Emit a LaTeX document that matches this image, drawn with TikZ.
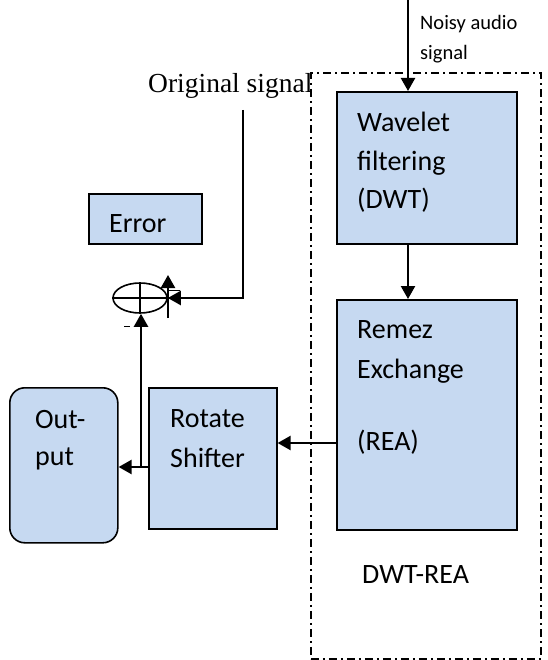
\documentclass[tikz,border=0pt]{standalone}
\usepackage{fontspec}
\setmainfont{Carlito}
\newfontfamily\timesfont{Liberation Serif}
\usetikzlibrary{arrows.meta,shapes.geometric}
\definecolor{boxblue}{HTML}{C6D9F1}
\tikzset{
  block/.style={draw, fill=boxblue, line width=1.6pt, inner sep=0pt, anchor=north west},
  txt/.style={anchor=base west, inner sep=0pt, align=left, font=\fontsize{28}{40}\selectfont},
  arr/.style={line width=2.3pt, -{Triangle[length=13pt,width=14pt]}},
}
\begin{document}
\begin{tikzpicture}[x=1pt,y=-1pt]
  \useasboundingbox (0,0) rectangle (547,660);

  % The DWT-REA frame, dash-dotted.
  \node[draw, line width=1.6pt, dash pattern=on 8pt off 4pt on 2pt off 4pt,
    minimum width=230pt, minimum height=586pt, anchor=north west, inner sep=0pt] (frame) at (310,72) {};

  % Blocks.
  \node[block, minimum width=180pt, minimum height=152pt] (wav) at (336,91) {};
  \node[block, minimum width=180pt, minimum height=230pt] (rem) at (336,299) {};
  \node[block, minimum width=128pt, minimum height=141pt] (rot) at (148,387) {};
  \node[block, rounded corners=15pt, minimum width=108pt, minimum height=155pt] (out) at (9,387) {};
  \node[block, minimum width=113pt, minimum height=50pt] (err) at (88,193) {};

  % Texts of the blocks (placed at the baseline of their last line).
  \node[txt] (wavtxt) at (357,208) {Wavelet\\[-1pt]filtering\\[-2pt](DWT)};
  \node[txt] (remtxt) at (357,450) {Remez\\Exchange\\[32pt](REA)};
  \node[txt] (rottxt) at (170,467) {Rotate\\Shifter};
  \node[txt] (outtxt) at (35,465) {Out-\\[-3pt]put};
  \node[txt] (errtxt) at (109,232) {Error};
  \node[txt] (frametxt) at (362,583) {DWT-REA};
  \node[txt, font=\fontsize{20.5}{30}\selectfont] (noisytxt) at (420,60) {Noisy audio\\signal};
  \node[txt, font=\timesfont\fontsize{27.5}{30}\selectfont] (origtxt) at (148,93) {Original signal};

  % Summing junction: an ellipse with a cross.
  \node[draw, ellipse, line width=1.6pt, minimum width=54pt, minimum height=30pt, inner sep=0pt] (sum) at (140,298) {};
  \draw[line width=1.6pt] (sum.north) -- (sum.south) (sum.west) -- (sum.east);
  \draw[line width=0.6pt] (124,326) -- (130,326);
  \draw[line width=0.6pt] (168,290) -- (180,290);

  % Connectors.
  \coordinate (noisy) at (408,0);
  \coordinate (orig) at (243,110);
  \coordinate (tap) at (141,467);
  \coordinate (plusbot) at (168,318);
  \coordinate (plustop) at (168,275);
  \draw[arr] (noisy) -- (noisy |- wav.north);
  \draw[arr] (noisy |- wav.south) -- (noisy |- rem.north);
  \draw[arr] (rem.west |- 0,443) -- (rot.east |- 0,443);
  \draw[arr] (rot.west |- tap) -- (out.east |- tap);
  \draw[arr] (tap) -- (tap |- sum.south);
  \draw[arr] (orig) |- (sum.east);
  \draw[arr] (plusbot) -- (plustop);
\end{tikzpicture}
\end{document}
